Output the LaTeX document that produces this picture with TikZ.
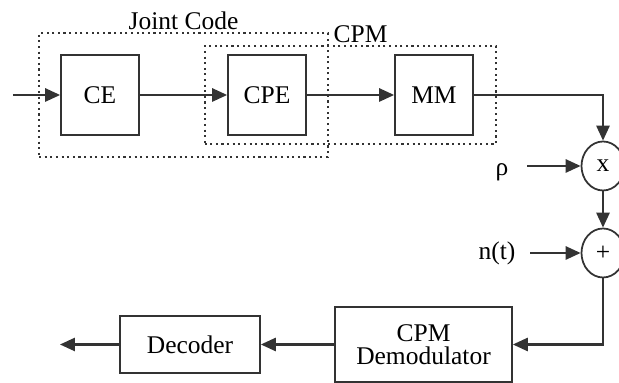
\documentclass[tikz,border=0pt]{standalone}
\usepackage{fontspec}
\setmainfont{Liberation Serif}
\usetikzlibrary{arrows.meta,fit,shapes.geometric}
\definecolor{ink}{HTML}{333333}

\begin{document}
\begin{tikzpicture}[x=1cm, y=1cm,
    blk/.style={draw=ink, line width=1pt, minimum width=1.56cm, minimum height=1.6cm, font=\fontsize{14.5}{13}\selectfont},
    sum/.style={draw=ink, line width=1pt, ellipse, minimum width=0.86cm, minimum height=0.98cm, inner sep=0pt, font=\fontsize{14.5}{16}\selectfont},
    grp/.style={draw=ink, dotted, line width=1.2pt},
    lbl/.style={font=\fontsize{14.5}{16}\selectfont},
    sig/.style={draw=ink, line width=1.2pt, -{Triangle[length=8.5pt,width=7.5pt]}}]
  \useasboundingbox (0,0) rectangle (12.38,7.66);
  % transmitter chain
  \foreach \x/\nm/\lbl in {2.00/ce/CE, 5.34/cpe/CPE, 8.68/mm/MM}
    \node[blk] (\nm) at (\x,5.76) {\lbl};
  \node[grp, fit=(ce)(cpe), inner xsep=0.42cm, inner ysep=0.42cm] (joint) {};
  \node[grp, fit=(cpe)(mm), inner xsep=0.45cm, inner ysep=0.16cm] (cpm) {};
  \node[lbl, anchor=south, inner sep=1pt] (jointlbl) at (joint.north) {Joint Code};
  \node[lbl, anchor=south, inner sep=1pt, xshift=0.2cm] (cpmlbl) at (cpm.north) {CPM};
  \coordinate (in) at (0.26,5.76);
  \draw[sig] (in) -- (ce);
  \draw[sig] (ce) -- (cpe);
  \draw[sig] (cpe) -- (mm);
  % channel
  \node[sum] (mul) at (12.06,4.34) {x};
  \node[sum] (add) at (12.06,2.60) {+};
  \node[lbl] (rho) at (10.04,4.22) {ρ};
  \node[lbl] (noise) at (9.94,2.60) {n(t)};
  \coordinate (rhoin) at (10.54,4.34);
  \coordinate (noisein) at (10.60,2.60);
  \draw[sig] (mm) -| (mul);
  \draw[sig] (rhoin) -- (mul);
  \draw[sig] (mul) -- (add);
  \draw[sig] (noisein) -- (add);
  % receiver
  \node[blk, minimum width=3.54cm, minimum height=1.5cm, align=center] (demod) at (8.47,0.77) {CPM\\Demodulator};
  \node[blk, minimum width=2.8cm, minimum height=1.14cm] (dec) at (3.80,0.77) {Decoder};
  \coordinate (out) at (1.20,0.77);
  \draw[sig] (add) |- (demod);
  \draw[sig] (demod) -- (dec);
  \draw[sig] (dec) -- (out);
\end{tikzpicture}
\end{document}
